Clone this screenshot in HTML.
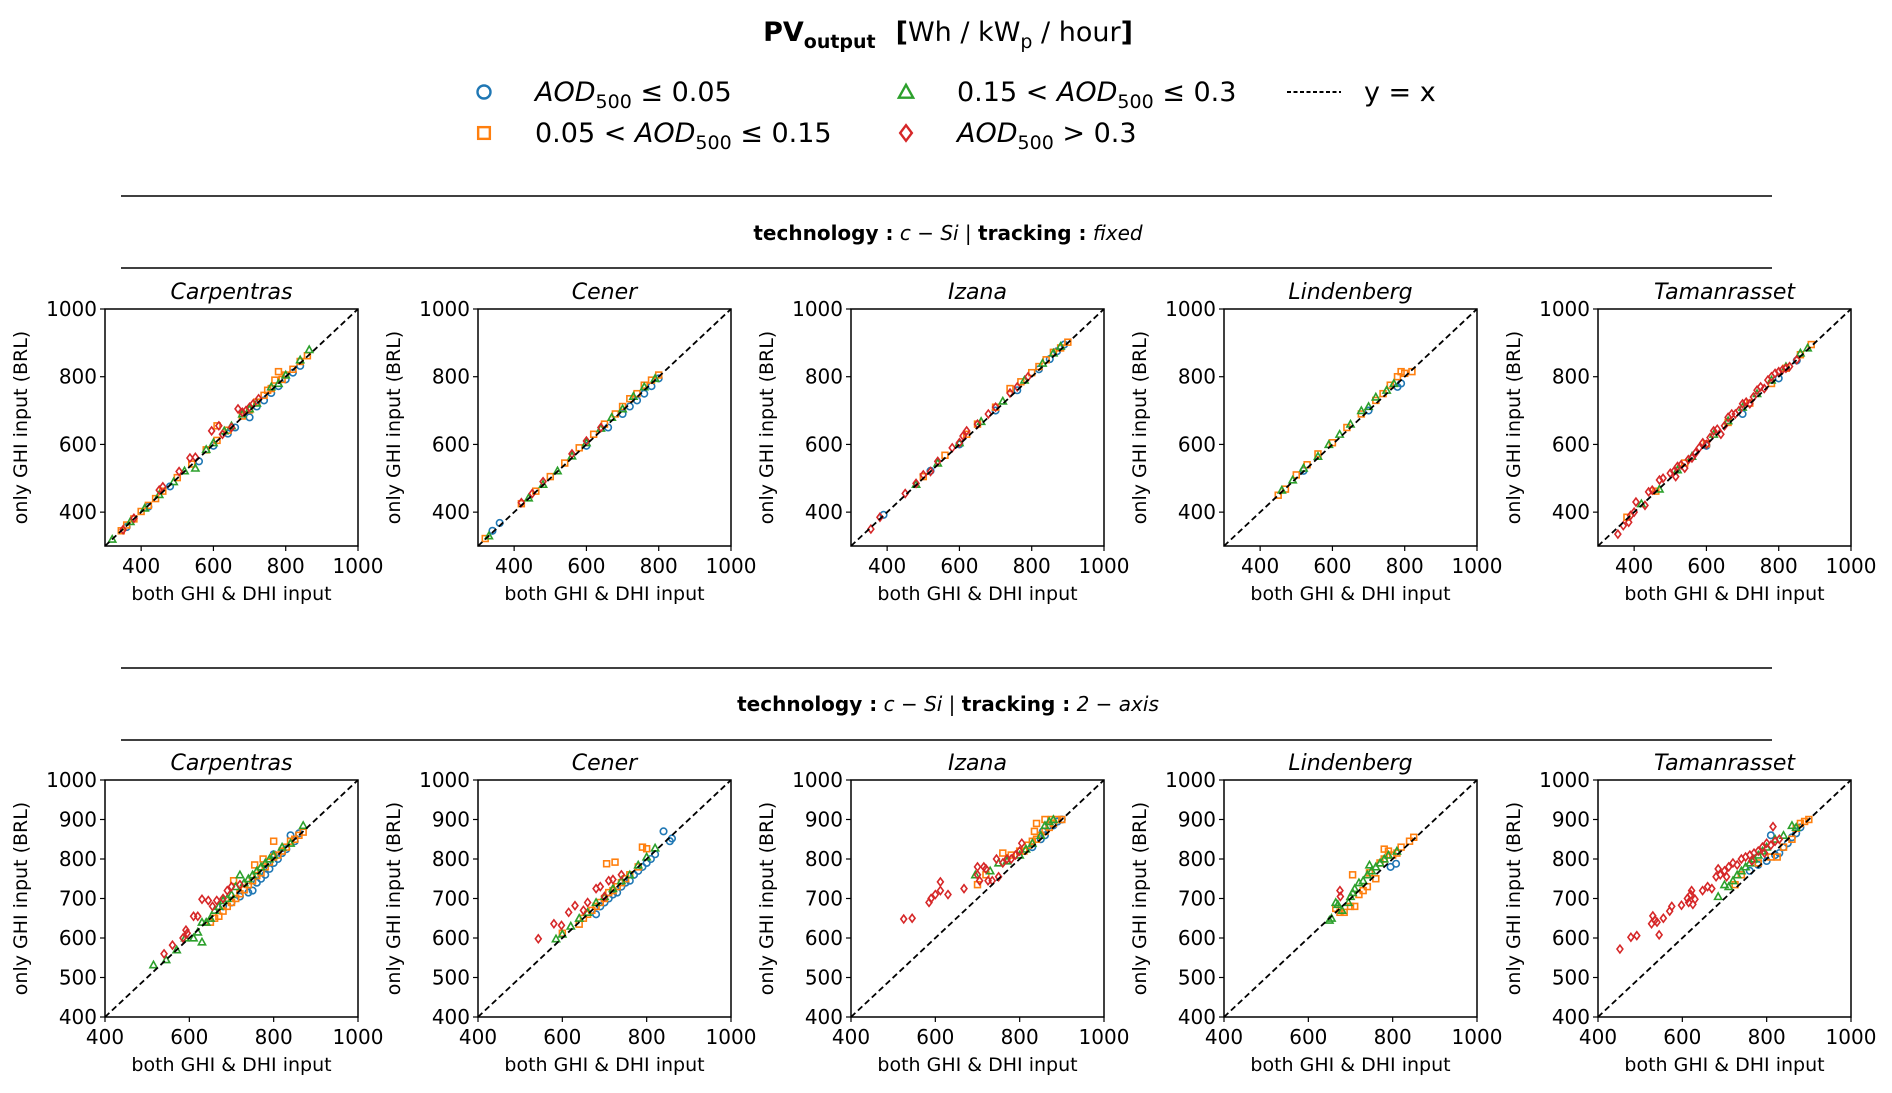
<!DOCTYPE html>
<html><head><meta charset="utf-8">
<style>
html,body{margin:0;padding:0;background:#fff;}
svg{display:block;font-family:"DejaVu Sans","Liberation Sans",sans-serif;}
</style></head>
<body>
<svg id="fig" width="1892" height="1093" viewBox="0 0 1892 1093" xmlns="http://www.w3.org/2000/svg">
  <text x="948" y="41" text-anchor="middle" font-size="27"><tspan font-weight="bold">PV</tspan><tspan font-weight="bold" font-size="19" dy="7">output</tspan><tspan font-weight="bold" dy="-7" dx="20">[</tspan><tspan>Wh / kW</tspan><tspan font-size="19" dy="7">p</tspan><tspan dy="-7"> / hour</tspan><tspan font-weight="bold">]</tspan></text>
  <g id="legend"></g>
  <line x1="121" y1="196" x2="1772" y2="196" stroke="#000" stroke-width="1.5"/>
  <line x1="121" y1="268" x2="1772" y2="268" stroke="#000" stroke-width="1.5"/>
  <line x1="121" y1="668" x2="1772" y2="668" stroke="#000" stroke-width="1.5"/>
  <line x1="121" y1="740" x2="1772" y2="740" stroke="#000" stroke-width="1.5"/>
  <text x="948" y="240" text-anchor="middle" font-size="20"><tspan font-weight="bold">technology :</tspan> <tspan font-style="italic">c − Si</tspan> | <tspan font-weight="bold">tracking :</tspan> <tspan font-style="italic">fixed</tspan></text>
  <text x="948" y="711" text-anchor="middle" font-size="20"><tspan font-weight="bold">technology :</tspan> <tspan font-style="italic">c − Si</tspan> | <tspan font-weight="bold">tracking :</tspan> <tspan font-style="italic">2 − axis</tspan></text>
  <g id="panels"></g>
</svg>
<script>
const NS='http://www.w3.org/2000/svg';
const colors=['#1f77b4','#ff7f0e','#2ca02c','#d62728'];
const stations=['Carpentras','Cener','Izana','Lindenberg','Tamanrasset'];
const topTicks=[400,600,800,1000];
const botTicks=[400,600,800,1000];
const botYTicks=[400,500,600,700,800,900,1000];

// ---- fixed tracking (top row) : [blue, orange, green, red] pairs [x,y]
const fixCarpBlue=[[360,356],[420,416],[480,476],[560,550],[600,596],[640,632],[660,650],[700,680],[720,712],[740,730],[760,752],[780,772],[800,792],[820,812],[840,832]];
const fixCarpOrange=[[345,345],[360,362],[380,380],[400,402],[420,420],[440,440],[460,462],[500,502],[540,542],[580,584],[610,612],[610,655],[640,642],[680,684],[700,702],[720,725],[740,745],[750,760],[760,765],[770,790],[780,815],[790,792],[800,805],[820,822],[840,845],[860,862]];
const fixCarpGreen=[[320,320],[370,372],[410,412],[450,452],[490,490],[520,522],[550,530],[580,585],[600,605],[630,640],[650,655],[680,690],[700,705],[720,722],[760,770],[780,780],[800,805],[840,850],[865,880]];
const fixCarpRed=[[350,348],[380,382],[450,465],[460,475],[505,520],[535,560],[550,562],[595,640],[615,655],[625,630],[650,650],[668,705],[680,695],[690,700],[700,710],[710,720],[725,735]];
const fixCenBlue=[[340,345],[360,368],[600,596],[660,650],[700,690],[720,712],[740,730],[760,750],[780,772],[800,795]];
const fixCenOrange=[[320,322],[420,425],[460,462],[500,505],[540,545],[580,590],[620,630],[650,660],[680,690],[700,712],[720,735],[740,750],[760,775],[780,790],[800,805]];
const fixCenGreen=[[330,330],[440,442],[480,482],[520,522],[560,566],[600,605],[640,648],[670,680],[700,705],[730,742],[760,770],[790,795]];
const fixCenRed=[[420,428],[450,455],[480,490],[560,572],[600,610],[640,650]];
const fixIzaBlue=[[390,392],[520,522],[600,600],[700,700],[760,760],[820,822],[850,852],[870,875],[890,895]];
const fixIzaOrange=[[500,505],[560,568],[620,630],[650,660],[700,710],[740,765],[770,785],[800,812],[820,830],[840,850],[860,872],[880,885],[900,902]];
const fixIzaGreen=[[480,482],[540,545],[600,605],[660,668],[720,728],[780,790],[830,840],[860,870],[880,890]];
const fixIzaRed=[[355,350],[380,385],[450,455],[480,485],[500,510],[520,520],[540,550],[580,590],[600,605],[610,625],[620,640],[650,660],[680,690],[700,710],[740,752],[760,770],[790,800]];
const fixLinBlue=[[520,522],[700,700],[780,770],[790,780]];
const fixLinOrange=[[450,450],[470,468],[500,510],[530,540],[560,572],[600,605],[640,650],[680,690],[720,730],[740,750],[760,775],[780,800],[790,815],[800,810],[820,815]];
const fixLinGreen=[[460,465],[490,495],[520,530],[560,565],[590,600],[620,630],[650,660],[680,700],[700,712],[720,740],[750,760],[770,780]];
const fixLinRed=[];
const fixTamBlue=[[600,596],[700,690],[800,795],[850,848]];
const fixTamOrange=[[380,385],[460,462],[540,545],[600,602],[660,665],[720,722],[780,780],[820,825],[860,865],[890,895]];
const fixTamGreen=[[420,425],[470,468],[520,525],[560,565],[620,630],[660,670],[700,710],[740,750],[780,790],[820,830],[860,870],[880,885]];
const fixTamRed=[[355,335],[370,360],[385,370],[390,390],[400,400],[405,430],[430,420],[440,460],[450,465],[470,495],[480,500],[500,515],[510,520],[515,505],[520,535],[530,540],[540,530],[550,555],[560,560],[570,575],[580,590],[590,605],[600,600],[610,620],[620,640],[630,645],[640,630],[650,655],[660,680],[670,690],[680,690],[690,700],[700,720],[710,725],[720,720],[730,740],[740,760],[750,770],[760,765],[770,790],[780,800],[790,810],[800,815],[810,820],[820,825],[830,830],[850,850]];

// ---- 2-axis tracking (bottom row)
const twoCarpBlue=[[680,680],[700,690],[720,705],[740,715],[750,720],[760,740],[770,750],[780,760],[790,775],[800,790],[800,812],[810,800],[820,815],[830,825],[840,860],[850,845],[860,865]];
const twoCarpOrange=[[650,640],[660,650],[670,655],[680,668],[690,680],[700,690],[710,700],[720,712],[730,722],[740,735],[750,745],[755,785],[760,758],[770,765],[780,780],[790,792],[800,805],[810,810],[820,820],[830,830],[840,845],[850,850],[860,860],[870,868],[705,745],[775,800],[800,845]];
const twoCarpGreen=[[515,532],[545,545],[570,570],[590,600],[610,600],[620,615],[630,590],[630,640],[640,640],[650,650],[660,670],[670,680],[680,695],[690,700],[700,710],[710,730],[720,760],[730,740],[740,750],[750,760],[760,770],[770,780],[780,790],[790,800],[800,810],[820,830],[840,840],[870,885]];
const twoCarpRed=[[540,560],[560,582],[585,600],[592,620],[595,612],[610,655],[620,655],[630,698],[645,695],[655,680],[665,695],[680,700],[690,720],[700,730],[720,735]];
const twoCenBlue=[[680,660],[690,680],[700,690],[710,700],[720,710],[730,715],[740,730],[750,740],[760,745],[770,760],[780,770],[790,780],[800,790],[810,800],[820,812],[840,870],[855,845],[860,852]];
const twoCenOrange=[[600,612],[640,635],[650,650],[660,660],[670,670],[680,680],[690,690],[700,700],[710,715],[720,720],[730,730],[740,740],[750,750],[760,760],[780,780],[705,788],[725,792],[790,830],[800,826]];
const twoCenGreen=[[585,598],[600,610],[620,630],[640,650],[660,665],[680,690],[700,705],[720,725],[740,745],[760,760],[780,785],[800,805],[820,828]];
const twoCenRed=[[543,598],[580,636],[598,632],[615,665],[630,682],[650,670],[660,690],[680,725],[690,730],[700,705],[710,745],[720,748],[740,760]];
const twoIzaBlue=[[830,830],[850,850],[860,860],[870,885],[880,885],[890,895],[900,900],[855,870]];
const twoIzaOrange=[[700,735],[720,760],[760,815],[780,810],[800,820],[810,820],[820,835],[830,845],[840,850],[840,890],[850,860],[860,870],[860,900],[870,880],[880,890],[890,900],[900,900],[835,870],[875,900]];
const twoIzaGreen=[[695,760],[730,770],[750,790],[770,795],[800,810],[815,825],[830,840],[850,860],[860,885],[870,895],[880,900]];
const twoIzaRed=[[525,648],[545,650],[585,690],[590,700],[600,710],[612,720],[612,742],[630,710],[668,725],[700,780],[700,760],[705,745],[715,780],[720,775],[725,745],[735,745],[745,800],[750,755],[760,790],[770,800],[780,800],[790,810],[800,820],[805,840]];
const twoLinBlue=[[795,780],[808,788]];
const twoLinOrange=[[665,675],[675,665],[685,665],[700,680],[710,680],[705,760],[720,710],[730,720],[740,730],[745,765],[760,750],[770,790],[780,800],[780,825],[790,820],[800,810],[810,815],[820,830],[840,845],[850,855]];
const twoLinGreen=[[650,645],[655,650],[665,690],[670,685],[680,670],[695,690],[700,705],[705,715],[710,725],[720,740],[730,745],[740,760],[745,785],[750,770],[760,780],[770,790],[780,800],[790,810],[810,820]];
const twoLinRed=[[675,720],[676,705]];
const twoTamBlue=[[760,770],[780,785],[800,795],[810,860],[820,810],[830,815],[840,830],[850,840],[860,855],[870,865],[880,880]];
const twoTamOrange=[[725,735],[740,760],[780,790],[810,805],[825,805],[840,830],[860,850],[870,878],[880,890],[890,895],[900,900]];
const twoTamGreen=[[685,705],[700,735],[710,730],[720,745],[730,760],[740,770],[750,780],[760,790],[770,800],[780,810],[790,820],[800,830],[820,850],[840,860],[860,885],[870,880]];
const twoTamRed=[[452,572],[478,602],[492,606],[527,636],[530,656],[535,645],[540,640],[545,608],[555,650],[570,668],[575,680],[598,683],[612,700],[615,690],[620,710],[622,720],[625,685],[630,698],[648,720],[660,730],[670,725],[680,755],[685,775],[690,760],[700,770],[705,755],[710,780],[720,790],[730,785],[740,800],[750,805],[760,810],[765,795],[770,815],[780,820],[790,830],[795,815],[800,840],[810,835],[815,882],[820,845],[830,850]];

const fixed=[[fixCarpBlue,fixCarpOrange,fixCarpGreen,fixCarpRed],[fixCenBlue,fixCenOrange,fixCenGreen,fixCenRed],[fixIzaBlue,fixIzaOrange,fixIzaGreen,fixIzaRed],[fixLinBlue,fixLinOrange,fixLinGreen,fixLinRed],[fixTamBlue,fixTamOrange,fixTamGreen,fixTamRed]];
const twoAxis=[[twoCarpBlue,twoCarpOrange,twoCarpGreen,twoCarpRed],[twoCenBlue,twoCenOrange,twoCenGreen,twoCenRed],[twoIzaBlue,twoIzaOrange,twoIzaGreen,twoIzaRed],[twoLinBlue,twoLinOrange,twoLinGreen,twoLinRed],[twoTamBlue,twoTamOrange,twoTamGreen,twoTamRed]];
const seriesNames=['aod-le-005','aod-005-015','aod-015-03','aod-gt-03'];

function mk(tag,attrs,parent){const e=document.createElementNS(NS,tag);for(const k in attrs)e.setAttribute(k,attrs[k]);if(parent)parent.appendChild(e);return e;}

function marker(g,kind,cx,cy,s,color,sw){
  let e;
  if(kind===0){e=mk('circle',{cx:cx,cy:cy,r:s*0.5,fill:'none',stroke:color,'stroke-width':sw},g);}
  else if(kind===1){e=mk('rect',{x:cx-s*0.45,y:cy-s*0.45,width:s*0.9,height:s*0.9,fill:'none',stroke:color,'stroke-width':sw},g);}
  else if(kind===2){const h=s*0.55;e=mk('polygon',{points:`${cx},${cy-h} ${cx-h},${cy+h*0.8} ${cx+h},${cy+h*0.8}`,fill:'none',stroke:color,'stroke-width':sw},g);}
  else {const h=s*0.6;e=mk('polygon',{points:`${cx},${cy-h} ${cx+h*0.75},${cy} ${cx},${cy+h} ${cx-h*0.75},${cy}`,fill:'none',stroke:color,'stroke-width':sw},g);}
  return e;
}

// legend
const lg=document.getElementById('legend');
const legPos=[[484,92],[484,133],[906,92],[906,133]];
const legText=[
  '<tspan font-style="italic">AOD</tspan><tspan font-size="19" dy="7">500</tspan><tspan dy="-7"> ≤ 0.05</tspan>',
  '<tspan>0.05 &lt; </tspan><tspan font-style="italic">AOD</tspan><tspan font-size="19" dy="7">500</tspan><tspan dy="-7"> ≤ 0.15</tspan>',
  '<tspan>0.15 &lt; </tspan><tspan font-style="italic">AOD</tspan><tspan font-size="19" dy="7">500</tspan><tspan dy="-7"> ≤ 0.3</tspan>',
  '<tspan font-style="italic">AOD</tspan><tspan font-size="19" dy="7">500</tspan><tspan dy="-7"> &gt; 0.3</tspan>'];
for(let i=0;i<4;i++){
  const m=marker(lg,i,legPos[i][0],legPos[i][1],13,colors[i],2.4);
  
  
  const t=mk('text',{x:legPos[i][0]+51,y:legPos[i][1]+9,'font-size':27},lg);
  t.innerHTML=legText[i];
  
  
}
const ll=mk('line',{x1:1287,y1:92,x2:1341,y2:92,stroke:'#000','stroke-width':2,'stroke-dasharray':'4,2.5'},lg);


const lt=mk('text',{x:1364,y:101,'font-size':27},lg);
lt.textContent='y = x';



// panels
const panelsG=document.getElementById('panels');
const lefts=[105,478,851,1224,1598];
const W=253, H=237;
function drawPanel(row,col,data,minV,xt,yt,top){
  const left=lefts[col];
  const g=mk('g',{},panelsG);
  
  
  const sx=v=>left+(v-minV)/(1000-minV)*W;
  const sy=v=>top+H-(v-minV)/(1000-minV)*H;
  const id=mk('line',{x1:sx(minV),y1:sy(minV),x2:sx(1000),y2:sy(1000),stroke:'#000','stroke-width':1.8,'stroke-dasharray':'6,3.5'},null);
  
  
  for(let s=0;s<4;s++){
    const sg=mk('g',{},g);
    
    
    for(const p of data[s]){
      const m=marker(sg,s,sx(p[0]),sy(p[1]),6.5,colors[s],1.6);
      
      
    }
  }
  g.appendChild(id);
  const frame=mk('rect',{x:left,y:top,width:W,height:H,fill:'none',stroke:'#000','stroke-width':1.5},g);
  
  
  for(const v of xt){
    const x=sx(v);
    const tk=mk('line',{x1:x,y1:top+H,x2:x,y2:top+H+5,stroke:'#000','stroke-width':1.2},g);
    
    
    const tl=mk('text',{x:x,y:top+H+27,'text-anchor':'middle','font-size':20},g);
    tl.textContent=v;
    
    
  }
  for(const v of yt){
    const y=sy(v);
    const tk=mk('line',{x1:left-5,y1:y,x2:left,y2:y,stroke:'#000','stroke-width':1.2},g);
    
    
    const tl=mk('text',{x:left-8,y:y+7,'text-anchor':'end','font-size':20},g);
    tl.textContent=v;
    
    
  }
  const xl=mk('text',{x:left+W/2,y:top+H+54,'text-anchor':'middle','font-size':19},g);
  xl.textContent='both GHI & DHI input';
  
  
  const yl=mk('text',{x:0,y:0,'text-anchor':'middle','font-size':19,transform:`translate(${left-78},${top+H/2}) rotate(-90)`},g);
  yl.textContent='only GHI input (BRL)';
  
  
  const tt=mk('text',{x:left+W/2,y:top-10,'text-anchor':'middle','font-size':22,'font-style':'italic'},g);
  tt.textContent=stations[col];
  
  
}
for(let c=0;c<5;c++){
  drawPanel(0,c,fixed[c],300,topTicks,topTicks,309);
  drawPanel(1,c,twoAxis[c],400,botTicks,botYTicks,780);
}
</script>
</body></html>
